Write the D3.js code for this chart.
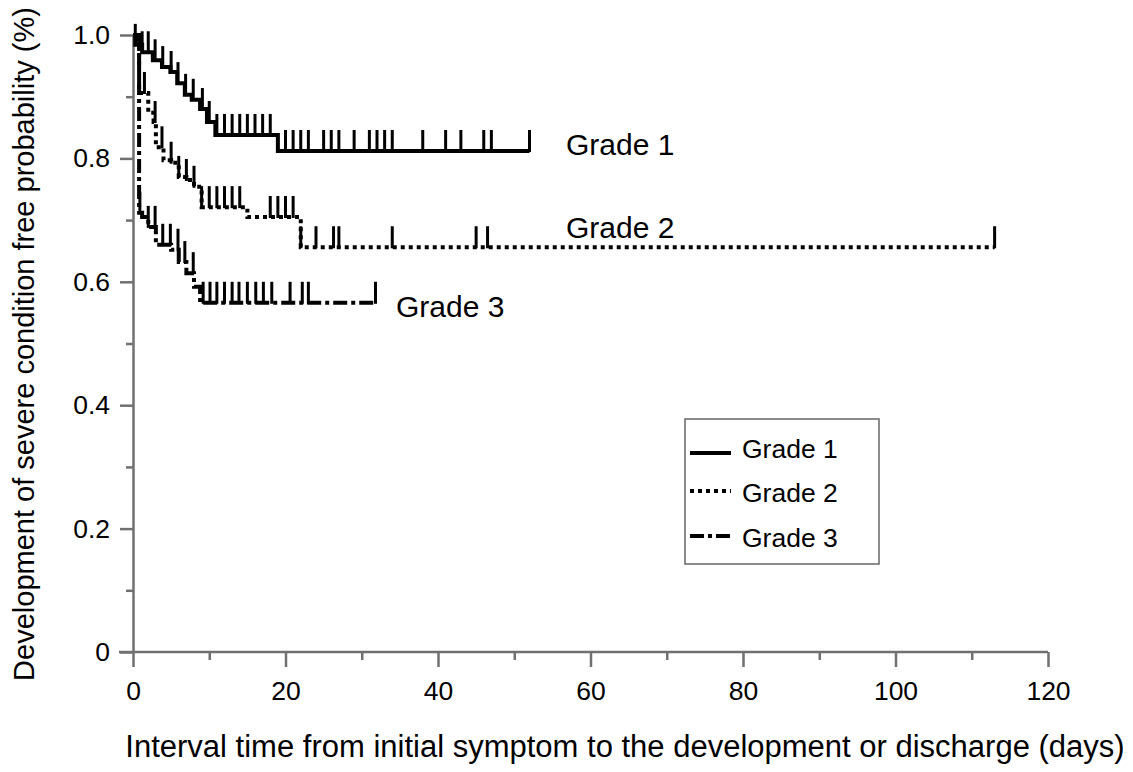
<!DOCTYPE html>
<html>
<head>
<meta charset="utf-8">
<script src="https://cdn.jsdelivr.net/npm/d3@7"></script>
<style>
  html, body { margin: 0; padding: 0; background: #fff; }
  svg { display: block; }
  text { font-family: "Liberation Sans", Arial, Helvetica, sans-serif; fill: #000; }
</style>
</head>
<body>
<svg id="chart" width="1133" height="772"></svg>
<script>
// ---------- data ----------
const xMajorTicks = [0, 20, 40, 60, 80, 100, 120];
const xMinorTicks = [10, 30, 50, 70, 90, 110];
const yMajorTicks = [0, 0.2, 0.4, 0.6, 0.8, 1.0];
const yMinorTicks = [0.1, 0.3, 0.5, 0.7, 0.9];
const yTickLabels = ["0", "0.2", "0.4", "0.6", "0.8", "1.0"];

const seriesNames = ["Grade 1", "Grade 2", "Grade 3"];

// Grade 1
const g1Times = [0, 0.3, 1.2, 2.6, 3.8, 4.9, 5.8, 6.8, 7.7, 8.8, 9.7, 10.8, 19];
const g1Surv  = [1.0, 0.984, 0.972, 0.959, 0.948, 0.940, 0.922, 0.903, 0.895, 0.880, 0.859, 0.838, 0.812];
const g1End = 52;
const g1Censor = [0.3, 1.2, 2.0, 2.9, 3.9, 5.0, 5.9, 6.9, 7.9, 9.1, 10.0, 11.0,
                  12, 13, 14, 15, 16, 17, 18, 20, 21, 22, 23, 25, 26, 27, 29,
                  31, 32, 33, 34, 38, 41, 43, 46, 47, 52];

// Grade 2
const g2Times = [0, 0.8, 2.0, 2.7, 3.0, 4.0, 5.0, 6.0, 7.0, 8.0, 9.0, 15, 22];
const g2Surv  = [1.0, 0.906, 0.874, 0.859, 0.818, 0.797, 0.793, 0.770, 0.765, 0.754, 0.721, 0.705, 0.656];
const g2End = 113;
const g2Censor = [1.5, 2.9, 3.8, 5.0, 6.0, 7.0, 8.0, 9.0, 10, 11, 12, 13, 14,
                  18, 19, 20, 21, 22, 24, 26.3, 27, 34, 45, 46.5, 113];

// Grade 3
const g3Times = [0, 0.8, 1.2, 2.0, 3.0, 5.0, 6.0, 7.0, 8.0, 8.8];
const g3Surv  = [1.0, 0.712, 0.705, 0.689, 0.660, 0.652, 0.632, 0.614, 0.592, 0.566];
const g3End = 32;
const g3Censor = [0.9, 2.0, 2.9, 3.9, 4.9, 5.9, 6.8, 7.9, 9.2, 10.1, 11, 12, 13,
                  13.9, 15, 16.1, 17.1, 18.2, 20.6, 22.2, 23, 31.8];

// ---------- chart ----------
const svg = d3.select("#chart");
const x = d3.scaleLinear().domain([0, 120]).range([133, 1048]);
const y = d3.scaleLinear().domain([0, 1]).range([652, 35]);
const axisColor = "#707070";

// axes
const gx = svg.append("g").attr("transform", `translate(0,${y(0)})`);
gx.call(d3.axisBottom(x).tickValues(xMajorTicks).tickSize(15).tickSizeOuter(0).tickPadding(14).tickFormat(d3.format("d")));
gx.append("g").call(d3.axisBottom(x).tickValues(xMinorTicks).tickSize(8).tickSizeOuter(0).tickFormat(""))
  .select(".domain").remove();
gx.selectAll(".domain").attr("d", `M${x(0) - 14},0H${x(120)}`);

const gy = svg.append("g").attr("transform", `translate(${x(0)},0)`);
gy.call(d3.axisLeft(y).tickValues(yMajorTicks).tickSize(13).tickSizeOuter(0).tickPadding(10)
  .tickFormat((d, i) => yTickLabels[i]));
gy.append("g").call(d3.axisLeft(y).tickValues(yMinorTicks).tickSize(7).tickSizeOuter(0).tickFormat(""))
  .select(".domain").remove();

svg.selectAll(".tick line, .domain").attr("stroke", axisColor).attr("stroke-width", 2.5);
svg.selectAll(".tick text").attr("font-size", 26.5).attr("font-family", "Liberation Sans, Arial, sans-serif").attr("fill", "#000");

// axis titles
svg.append("text")
  .attr("x", 625).attr("y", 757)
  .attr("text-anchor", "middle").attr("font-size", 31)
  .text("Interval time from initial symptom to the development or discharge (days)");
svg.append("text")
  .attr("transform", "translate(34,344) rotate(-90)")
  .attr("text-anchor", "middle").attr("font-size", 29)
  .text("Development of severe condition free probability (%)");

// series
const series = [
  { times: g1Times, surv: g1Surv, end: g1End, censor: g1Censor, dash: null },
  { times: g2Times, surv: g2Surv, end: g2End, censor: g2Censor, dash: "4,4" },
  { times: g3Times, surv: g3Surv, end: g3End, censor: g3Censor, dash: "14,4,4,4" }
];

const line = d3.line().x(d => x(d[0])).y(d => y(d[1])).curve(d3.curveStepAfter);

series.forEach(s => {
  const pts = s.times.map((t, i) => [t, s.surv[i]]);
  pts.push([s.end, s.surv[s.surv.length - 1]]);
  svg.append("path")
    .attr("d", line(pts))
    .attr("fill", "none")
    .attr("stroke", "#000")
    .attr("stroke-width", 4)
    .attr("stroke-dasharray", s.dash);
  const level = t => {
    let v = s.surv[0];
    for (let i = 0; i < s.times.length; i++) if (s.times[i] <= t) v = s.surv[i];
    return v;
  };
  svg.append("g").selectAll("line").data(s.censor).join("line")
    .attr("x1", d => x(d)).attr("x2", d => x(d))
    .attr("y1", d => y(level(d)) - 21).attr("y2", d => y(level(d)) + 1)
    .attr("stroke", "#000").attr("stroke-width", 3);
});

// curve labels
const curveLabelPos = [[566, 155], [566, 238], [396, 317]];
svg.append("g").selectAll("text").data(seriesNames).join("text")
  .attr("x", (d, i) => curveLabelPos[i][0]).attr("y", (d, i) => curveLabelPos[i][1])
  .attr("font-size", 30).text(d => d);

// legend
const lg = svg.append("g");
lg.append("rect").attr("x", 685).attr("y", 419).attr("width", 194).attr("height", 145)
  .attr("fill", "#fff").attr("stroke", "#666").attr("stroke-width", 1.5);
const legendRowY = [453, 491, 536];
const legendTextY = [458, 502, 547];
series.forEach((s, i) => {
  lg.append("line").attr("x1", 690).attr("x2", 731)
    .attr("y1", legendRowY[i]).attr("y2", legendRowY[i])
    .attr("stroke", "#000").attr("stroke-width", 4)
    .attr("stroke-dasharray", s.dash);
  lg.append("text").attr("x", 742).attr("y", legendTextY[i])
    .attr("font-size", 26.5).text(seriesNames[i]);
});
</script>
</body>
</html>
